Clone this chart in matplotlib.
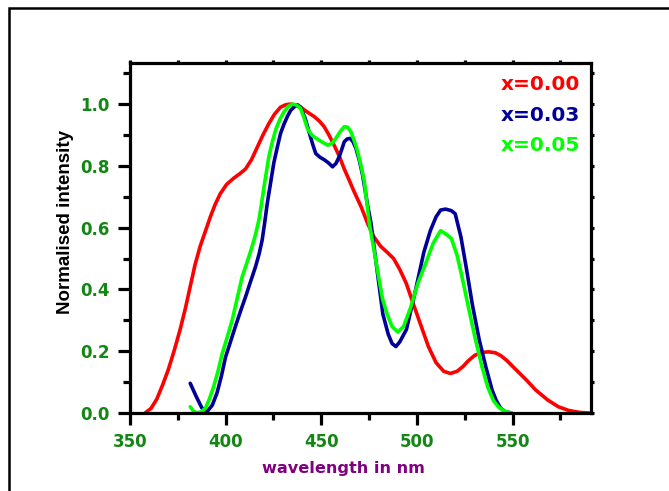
import matplotlib
matplotlib.use("Agg")
import matplotlib.pyplot as plt
from matplotlib.patches import Rectangle
from matplotlib.ticker import MultipleLocator

# x = 0.00 (red)
wl_000 = [357.9, 361, 364, 367, 370, 373, 376.2, 379, 381.5, 384, 386.7, 389.5, 392, 394.5,
          397.2, 400.5, 404.2, 407.5, 410.4, 413.5, 416.5, 419.5, 422.6, 425.5, 428.7, 431.5,
          434, 436.5, 439.2, 442.5, 446.2, 449, 451.5, 454, 456.7, 459.5, 462, 464.5, 467.2,
          471, 474.2, 477.5, 481, 484.5, 487.8, 491, 494.4, 498, 502, 506, 510, 514, 517.5,
          521, 524, 527, 530.3, 534, 537.5, 541, 544, 547, 551, 557.2, 562, 568.4, 574, 579.5,
          585, 590]
int_000 = [0.0, 0.015, 0.045, 0.09, 0.14, 0.2, 0.27, 0.34, 0.41, 0.48, 0.54, 0.59, 0.635, 0.675,
           0.71, 0.74, 0.76, 0.775, 0.79, 0.82, 0.86, 0.9, 0.937, 0.967, 0.99, 0.998,
           1.0, 0.997, 0.99, 0.975, 0.96, 0.945, 0.927, 0.9, 0.867, 0.83, 0.79, 0.755, 0.716,
           0.665, 0.614, 0.57, 0.54, 0.52, 0.5, 0.465, 0.42, 0.355, 0.285, 0.215,
           0.163, 0.135, 0.128, 0.135, 0.15, 0.17, 0.187, 0.196, 0.198, 0.195, 0.185, 0.17, 0.145,
           0.107, 0.075, 0.042, 0.02, 0.008, 0.002, 0.0]

# x = 0.03 (blue)
wl_003 = [381.5, 384.5, 387.6, 390.2, 393, 395.5, 397.8, 399.9, 402.5, 405.1, 407.8, 410.4,
          413, 415.6, 417.5, 419.1, 420.5, 421.8, 423.5, 425.2, 427, 428.7, 430.5, 432.3, 434,
          435.7, 437.5, 439.2, 441.5, 443.6, 445.5, 447.1, 449.3, 451.5, 453.7, 455.9, 457.7,
          459.4, 460.8, 462, 463.5, 465.1, 466.6, 468.1, 470, 471.6, 474.2, 476, 479, 482.2, 485,
          487, 489, 491, 494.5, 499, 503.6, 507, 510, 512.4, 515, 518, 520, 523, 526, 529,
          532.6, 536, 539.3, 541.5, 543.7, 546, 549.4]
int_003 = [0.096, 0.055, 0.016, 0.004, 0.025, 0.065, 0.12, 0.18, 0.23, 0.28, 0.33, 0.376,
           0.425, 0.473, 0.515, 0.56, 0.62, 0.68, 0.745, 0.81, 0.86, 0.905, 0.935, 0.96, 0.98,
           0.99, 0.998, 0.99, 0.955, 0.91, 0.87, 0.84, 0.828, 0.82, 0.81, 0.797, 0.808,
           0.83, 0.855, 0.878, 0.887, 0.889, 0.878, 0.857, 0.815, 0.77, 0.673, 0.614, 0.47, 0.32,
           0.255, 0.225, 0.215, 0.23, 0.27, 0.39, 0.52, 0.59, 0.635, 0.657, 0.66, 0.655, 0.645,
           0.57, 0.463, 0.35, 0.236, 0.15, 0.074, 0.04, 0.016, 0.005, 0.0]

# x = 0.05 (green)
wl_005 = [381.5, 383.2, 385, 387.2, 389.4, 391.5, 393.7, 396, 398.1, 400.8, 403.4, 406,
          408.6, 411.3, 413.9, 415.7, 417.4, 418.7, 420, 421.3, 422.6, 424.3, 426.1, 428.3,
          430.5, 432.7, 434.8, 437, 439.2, 441, 442.8, 445, 447.1, 450.2, 453.3, 455.5, 457.6,
          459.8, 462, 463.8, 465.5, 467.2, 469, 470.8, 472.5, 475.1, 477.5, 480, 482, 484.4,
          487, 490, 493, 496.8, 500.5, 504.6, 508.5, 512.4, 515, 518, 521, 523.6, 527, 530.3,
          534, 537, 540, 542.7, 546, 549.4]
int_005 = [0.02, 0.006, 0.0, 0.004, 0.015, 0.045, 0.085, 0.135, 0.19, 0.245, 0.3, 0.37,
           0.44, 0.49, 0.54, 0.58, 0.625, 0.675, 0.73, 0.78, 0.83, 0.875, 0.916, 0.95,
           0.975, 0.992, 1.0, 0.997, 0.986, 0.955, 0.92, 0.9, 0.89, 0.878, 0.867, 0.872, 0.889,
           0.91, 0.927, 0.925, 0.91, 0.882, 0.846, 0.8, 0.75, 0.614, 0.53, 0.44, 0.37, 0.32,
           0.28, 0.262, 0.28, 0.343, 0.42, 0.485, 0.55, 0.59, 0.58, 0.565, 0.51, 0.44, 0.34,
           0.246, 0.15, 0.084, 0.04, 0.019, 0.005, 0.0]

labels = ["x=0.00", "x=0.03", "x=0.05"]
colors = ["#ff0000", "#000099", "#00ff00"]

plt.rcParams['font.family'] = ['DejaVu Sans']
fig = plt.figure(figsize=(6.69, 4.91), dpi=100)

# outer frame (only left and top edges visible)
fig.patches.append(Rectangle((9 / 669, -0.5), 1.5, 0.5 + 1 - 8 / 491,
                             transform=fig.transFigure, fill=False, lw=1.8,
                             edgecolor='black', zorder=0))

ax = fig.add_axes([130 / 669, 78 / 491, 461 / 669, 350 / 491])

series = [(wl_000, int_000), (wl_003, int_003), (wl_005, int_005)]
for (x, y), c in zip(series, colors):
    ax.plot(x, y, color=c, lw=2.6, solid_joinstyle='round', solid_capstyle='round',
            clip_on=False)

ax.set_xlim(350, 591)
ax.set_ylim(0, 1.133)

ax.xaxis.set_minor_locator(MultipleLocator(25))
ax.yaxis.set_minor_locator(MultipleLocator(0.1))
ax.set_xticks([350, 400, 450, 500, 550])
ax.set_xticklabels(["350", "400", "450", "500", "550"])
ax.set_yticks([0.0, 0.2, 0.4, 0.6, 0.8, 1.0])
ax.set_yticklabels(["0.0", "0.2", "0.4", "0.6", "0.8", "1.0"])

for s in ax.spines.values():
    s.set_linewidth(2.3)

tick_green = "#138613"
ax.tick_params(axis='both', which='major', direction='out', length=8.5, width=2.3,
               labelsize=12, labelcolor=tick_green, pad=6)
ax.tick_params(axis='both', which='minor', direction='out', length=5, width=2.3)
ax.tick_params(axis='both', which='both', top=True, right=True,
               labeltop=False, labelright=False)
for t in ax.xaxis.get_major_ticks() + ax.xaxis.get_minor_ticks():
    t.tick2line.set_markersize(2.5)
for t in ax.yaxis.get_major_ticks() + ax.yaxis.get_minor_ticks():
    t.tick2line.set_markersize(2.5)
for lab in ax.get_xticklabels() + ax.get_yticklabels():
    lab.set_fontweight('bold')

ypos = [0.94, 0.851, 0.763]
for lab, c, yy in zip(labels, colors, ypos):
    ax.text(0.976, yy, lab, transform=ax.transAxes, ha='right', va='center',
            color=c, fontsize=14.5, fontweight='bold')

fig.text(343 / 669, 1 - 469 / 491, "wavelength in nm", ha='center', va='center',
         color='#800080', fontsize=11.6, fontweight='bold')
fig.text(66 / 669, 1 - 222 / 491, "Normalised intensity", ha='center', va='center',
         rotation=90, color='black', fontsize=13.5, fontweight='bold',
         family=['Liberation Sans', 'DejaVu Sans'])

fig.savefig("out.png", dpi=100)
